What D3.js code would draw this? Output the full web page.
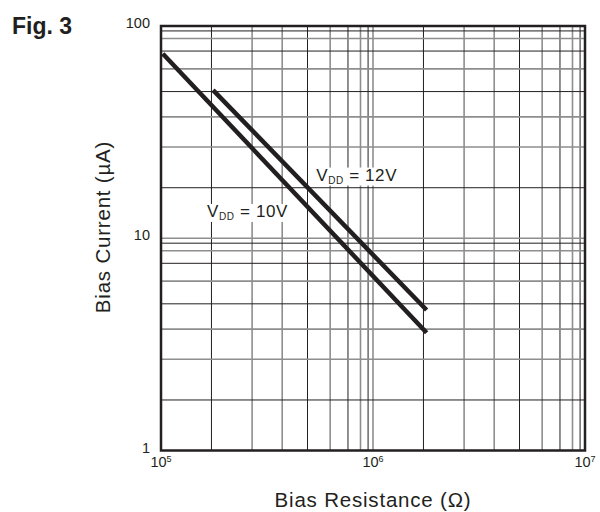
<!DOCTYPE html>
<html>
<head>
<meta charset="utf-8">
<script src="https://cdn.jsdelivr.net/npm/d3@7"></script>
<style>
  body { margin: 0; background: #fff; }
  svg { display: block; font-family: "Liberation Sans", Arial, Helvetica, sans-serif; }
</style>
</head>
<body>
<div id="chart"></div>
<script>
// x: bias resistance (ohm), y: bias current (uA)
var xTicks = [1e5, 1e6, 1e7];
var xTickExp = ["5", "6", "7"];
var yTicks = [1, 10, 100];
var yTickLabels = ["1", "10", "100"];

// minor grid as drawn on the sheet (multiplier inside each decade)
var gridMult = [1.73, 2.69, 3.73, 4.91, 6.28, 7.62, 8.73, 9.48, 10];
var gridDark = [true, false, false, true, false, true, false, true, false];
var xDecades = [1e5, 1e6];
var yDecades = [1, 10];

// curves
var res10 = [1.02e5, 1.79e6];
var cur10 = [74, 3.59];
var res12 = [1.76e5, 1.79e6];
var cur12 = [49.9, 4.59];

// annotations: [R, I] anchors
var labels = [
  {name: "12", at: [5.4e5, 18.7]},
  {name: "10", at: [1.65e5, 12.6]}
];

var W = 600, H = 512;
var plot = {left: 161, right: 585, top: 26, bottom: 450.5};
var ink = "#231f20";

var svg = d3.select("#chart").append("svg")
    .attr("width", W)
    .attr("height", H);

var x = d3.scaleLog().domain([1e5, 1e7]).range([plot.left, plot.right]);
var y = d3.scaleLog().domain([1, 100]).range([plot.bottom, plot.top]);

// grid
function gridValues(decades){
    var out = [];
    decades.forEach(function(d){
	gridMult.forEach(function(m, i){
	    out.push({v: d * m, dark: gridDark[i]});
	});
    });
    return out.filter(function(g){ return g.v < decades[decades.length - 1] * 9.99; });
}

var grid = svg.append("g");
grid.selectAll("line.gx")
    .data(gridValues(xDecades))
    .enter().append("line")
    .attr("x1", function(d){ return x(d.v); })
    .attr("x2", function(d){ return x(d.v); })
    .attr("y1", plot.top)
    .attr("y2", plot.bottom)
    .attr("stroke", function(d){ return d.dark ? ink : "#8e8e8e"; })
    .attr("stroke-width", function(d){ return d.dark ? 1 : 1.6; });

grid.selectAll("line.gy")
    .data(gridValues(yDecades))
    .enter().append("line")
    .attr("y1", function(d){ return y(d.v); })
    .attr("y2", function(d){ return y(d.v); })
    .attr("x1", plot.left)
    .attr("x2", plot.right)
    .attr("stroke", function(d){ return d.dark ? ink : "#8e8e8e"; })
    .attr("stroke-width", function(d){ return d.dark ? 1 : 1.6; });

// curves
var line = d3.line()
    .x(function(d){ return x(d[0]); })
    .y(function(d){ return y(d[1]); });

[[res10, cur10], [res12, cur12]].forEach(function(s){
    var pts = s[0].map(function(r, i){ return [r, s[1][i]]; });
    svg.append("path")
	.attr("d", line(pts))
	.attr("fill", "none")
	.attr("stroke", ink)
	.attr("stroke-width", 4.5);
});

// annotations with white backing
labels.forEach(function(l){
    var g = svg.append("g");
    var t = g.append("text")
	.attr("x", x(l.at[0]))
	.attr("y", y(l.at[1]))
	.attr("font-size", 17)
	.attr("letter-spacing", 0.6)
	.attr("fill", ink);
    t.append("tspan").text("V");
    t.append("tspan").attr("font-size", 10).attr("dy", 3).text("DD");
    t.append("tspan").attr("dy", -3).text("\u00a0=\u00a0" + l.name + "V");
    var b = t.node().getBBox();
    g.insert("rect", "text")
	.attr("x", b.x - 2).attr("y", b.y + 2)
	.attr("width", b.width + 4).attr("height", b.height - 2)
	.attr("fill", "#fff");
});

// frame
svg.append("rect")
    .attr("x", plot.left)
    .attr("y", plot.top)
    .attr("width", plot.right - plot.left)
    .attr("height", plot.bottom - plot.top)
    .attr("fill", "none")
    .attr("stroke", ink)
    .attr("stroke-width", 2.5);

// y tick labels
svg.selectAll("text.yt")
    .data(yTicks)
    .enter().append("text")
    .attr("x", plot.left - 11)
    .attr("y", function(d){ return y(d) + 2; })
    .attr("text-anchor", "end")
    .attr("font-size", 14.5)
    .attr("fill", ink)
    .text(function(d, i){ return yTickLabels[i]; });

// x tick labels 10^n
var xt = svg.selectAll("text.xt")
    .data(xTicks)
    .enter().append("text")
    .attr("x", function(d){ return x(d); })
    .attr("y", plot.bottom + 16)
    .attr("text-anchor", "middle")
    .attr("font-size", 14.5)
    .attr("fill", ink);
xt.append("tspan").text("10");
xt.append("tspan")
    .attr("font-size", 9)
    .attr("dy", -5)
    .text(function(d, i){ return xTickExp[i]; });

// axis titles
svg.append("text")
    .attr("x", (plot.left + plot.right) / 2)
    .attr("y", 507)
    .attr("text-anchor", "middle")
    .attr("font-size", 20.5)
    .attr("letter-spacing", 0.8)
    .attr("fill", ink)
    .text("Bias Resistance (\u03a9)");

svg.append("text")
    .attr("transform", "translate(110,227) rotate(-90)")
    .attr("text-anchor", "middle")
    .attr("font-size", 20.5)
    .attr("letter-spacing", 0.8)
    .attr("fill", ink)
    .text("Bias Current (\u00b5A)");

svg.append("text")
    .attr("x", 12)
    .attr("y", 34)
    .attr("font-size", 23)
    .attr("font-weight", "bold")
    .attr("fill", ink)
    .text("Fig. 3");
</script>
</body>
</html>
